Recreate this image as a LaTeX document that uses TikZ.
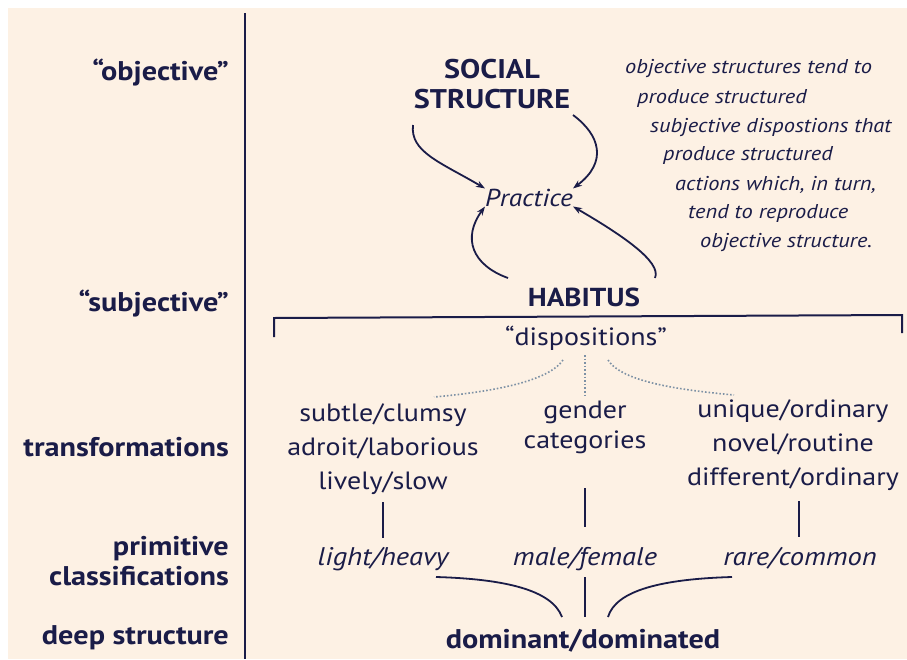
\documentclass[tikz,border=0pt]{standalone}
\usepackage{fontspec}
\setmainfont{PT Sans}[FakeStretch=1.12]
\usetikzlibrary{arrows.meta}
\definecolor{paper}{RGB}{253,241,228}
\definecolor{ink}{RGB}{26,28,72}
\definecolor{dots}{RGB}{125,145,165}
\begin{document}
\begin{tikzpicture}[x=1pt,y=-1pt,
  every node/.style={text=ink,inner sep=0pt},
  side/.style={font=\fontsize{27}{30}\selectfont\bfseries,anchor=base east,align=right},
  head/.style={font=\fontsize{27}{29.5}\selectfont\bfseries,anchor=base},
  term/.style={font=\fontsize{25}{34}\selectfont,anchor=base},
  prim/.style={font=\fontsize{25.5}{30}\selectfont\itshape,anchor=base},
  note/.style={font=\fontsize{20}{29}\selectfont\itshape,anchor=base west},
  flow/.style={ink,line width=1.8pt,-{Stealth[length=9pt,width=6.5pt]}},
  link/.style={ink,line width=1.8pt},
  hint/.style={dots,line width=1.6pt,dotted}]
\useasboundingbox (0,0) rectangle (907,659);
\fill[white] (0,0) rectangle (907,659);
\fill[paper] (8,8) rectangle (907,659);

% level axis
\draw[link,line width=2pt] (245,13) -- (245,659);
\node[side] (lobj)  at (229,80)  {“objective”};
\node[side] (lsubj) at (229,311) {“subjective”};
\node[side] (ltr)   at (229,456) {transformations};
\node[side] (lprim) at (229,555) {primitive};
\node[side] (lcls)  at (229,585) {classifications};
\node[side] (ldeep) at (229,644) {deep structure};

% the practice cycle
\node[head,align=center] (social) at (492,108) {SOCIAL\\STRUCTURE};
\node[prim,font=\fontsize{24.5}{30}\selectfont\itshape] (practice) at (529,206) {Practice};
\node[head,font=\fontsize{26}{30}\selectfont\bfseries] (habitus) at (584,306) {HABITUS};

\coordinate (s1) at (413,125);
\coordinate (s2) at (573,115);
\coordinate (h1) at (508,278);
\coordinate (h2) at (655,278);
\draw[flow] (s1) .. controls (410,152) and (440,162) .. (practice.north west);
\draw[flow] (s2) .. controls (600,135) and (608,162) .. (practice.north east);
\draw[flow] (h1) .. controls (472,265) and (462,238) .. (practice.south west);
\draw[flow] (h2) .. controls (662,262) and (622,235) .. (practice.south east);

% commentary
\node[note] (d1) at (625,73)  {objective structures tend to};
\node[note] (d2) at (637,103) {produce structured};
\node[note] (d3) at (650,132) {subjective dispostions that};
\node[note] (d4) at (663,160) {produce structured};
\node[note] (d5) at (675,190) {actions which, in turn,};
\node[note] (d6) at (688,218) {tend to reproduce};
\node[note] (d7) at (700,247) {objective structure.};

% habitus bracket
\coordinate (bl) at (274,337);
\coordinate (br) at (902,333);
\draw[link,line width=2pt] (bl) -- (274,318) -- (902,315) -- (br);
\node[term] (disp) at (586,345) {“dispositions”};

% transformations
\node[term,align=center,anchor=north] (tl) at (383,403) {subtle/clumsy\\adroit/laborious\\lively/slow};
\node[term,align=center,anchor=north] (tm) at (585,401) {gender\\[-4pt]categories};
\node[term,align=center,anchor=north] (tr) at (793,399) {unique/ordinary\\novel/routine\\different/ordinary};

\coordinate (dl) at (434,397);
\coordinate (dm) at (585,398);
\coordinate (dr) at (734,395);
\draw[hint] (563,360) .. controls (548,382) and (490,392) .. (dl);
\draw[hint] (585,355) -- (dm);
\draw[hint] (608,360) .. controls (622,382) and (680,390) .. (dr);

% primitive classifications
\node[prim] (pl) at (383,565) {light/heavy};
\node[prim] (pm) at (585,565) {male/female};
\node[prim] (pr) at (800,565) {rare/common};
\draw[link] (383,502) -- (383,538);
\draw[link] (585,488) -- (585,527);
\draw[link] (799,501) -- (799,537);

% deep structure
\node[head] (dom) at (583,648) {dominant/dominated};
\draw[link] (436,577) .. controls (505,579) and (552,590) .. (562,617);
\draw[link] (585,577) -- (585,617);
\draw[link] (732,577) .. controls (663,579) and (616,590) .. (608,617);
\end{tikzpicture}
\end{document}
